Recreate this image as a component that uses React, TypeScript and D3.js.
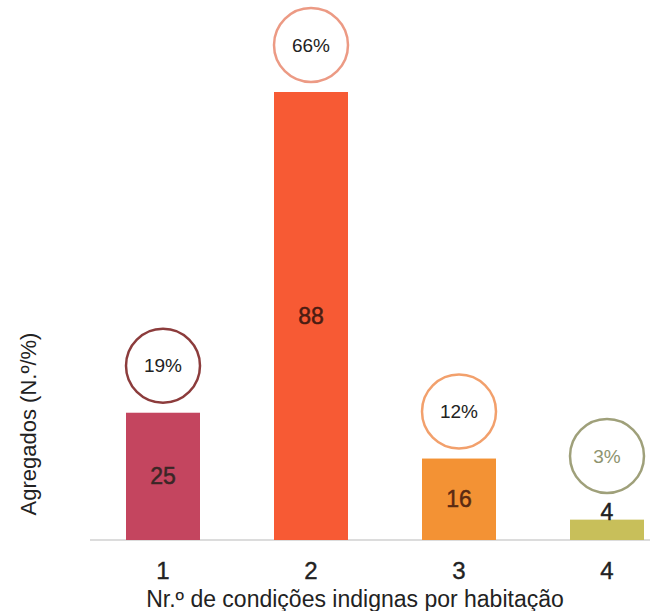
import React from "react";
import * as d3 from "d3";

// Households by number of substandard housing conditions
const categories: string[] = ["1", "2", "3", "4"];
const counts: number[] = [25, 88, 16, 4];
const percents: string[] = ["19%", "66%", "12%", "3%"];
const barColors: string[] = ["#c4455f", "#f75a34", "#f39234", "#c8bf5a"];
const ringColors: string[] = ["#8c3c3c", "#ec9a84", "#f2a06c", "#9fa07a"];
const percentTextColors: string[] = ["#222222", "#222222", "#222222", "#8e946f"];
const countTextColors: string[] = ["#3a2626", "#4a1c12", "#5a2a12", "#222222"];

const xTitle = "Nr.º de condições indignas por habitação";
const yTitle = "Agregados (N.º/%)";

const W = 653;
const H = 611;
const baseline = 540;
const font = "'Liberation Sans', Arial, Helvetica, sans-serif";

export default function App() {
  const x = d3
    .scaleBand<string>()
    .domain(categories)
    .range([89, 681])
    .paddingInner(0.5)
    .paddingOuter(0.25);
  const y = d3.scaleLinear().domain([0, 88]).range([baseline, 92]);
  const r = 37;

  return (
    <svg
      width={W}
      height={H}
      style={{ position: "absolute", left: 0, top: 0, background: "#ffffff" }}
      fontFamily={font}
    >
      <rect x={0} y={0} width={W} height={H} fill="#ffffff" />
      {/* baseline */}
      <line x1={90} x2={650} y1={baseline} y2={baseline} stroke="#dcdcdc" strokeWidth={2} />
      {categories.map((c, i) => {
        const bx = x(c)!;
        const bw = x.bandwidth();
        const cx = bx + bw / 2;
        const top = y(counts[i]);
        const labelY = Math.min((top + baseline) / 2, baseline - 28);
        const ringY = Math.min(top - 47, baseline - 84);
        return (
          <g key={c}>
            <rect x={bx} y={top} width={bw} height={baseline - top} fill={barColors[i]} />
            <text
              x={cx}
              y={labelY}
              textAnchor="middle"
              dominantBaseline="central"
              fontSize={23}
              fill={countTextColors[i]}
              stroke={countTextColors[i]}
              strokeWidth={0.5}
            >
              {counts[i]}
            </text>
            <circle cx={cx} cy={ringY} r={r} fill="#ffffff" stroke={ringColors[i]} strokeWidth={2.5} />
            <text
              x={cx}
              y={ringY}
              textAnchor="middle"
              dominantBaseline="central"
              fontSize={19}
              fill={percentTextColors[i]}
            >
              {percents[i]}
            </text>
            <text
              x={cx}
              y={579}
              textAnchor="middle"
              fontSize={24}
              fill="#222222"
              stroke="#222222"
              strokeWidth={0.4}
            >
              {c}
            </text>
          </g>
        );
      })}
      <text x={355} y={607} textAnchor="middle" fontSize={23} fill="#222222">
        {xTitle}
      </text>
      <text
        transform="translate(36,424) rotate(-90)"
        textAnchor="middle"
        fontSize={22}
        fill="#222222"
      >
        {yTitle}
      </text>
    </svg>
  );
}
